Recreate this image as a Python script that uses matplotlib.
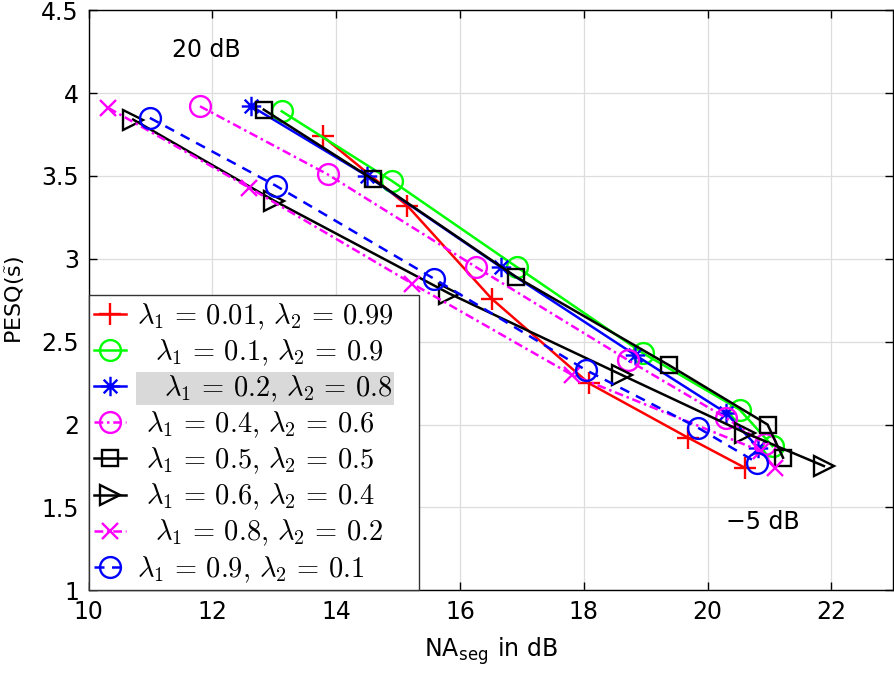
import matplotlib
matplotlib.use("Agg")
import matplotlib.pyplot as plt
from matplotlib.path import Path

plt.rcParams['mathtext.fontset'] = 'cm'
plt.rcParams['font.family'] = ['DejaVu Sans']

# Data: NA_seg (x) and PESQ (y), six SNR levels from 20 dB down to -5 dB
x_001 = [13.78, 15.15, 16.51, 18.08, 19.69, 20.60]
y_001 = [3.74, 3.32, 2.76, 2.25, 1.92, 1.74]
x_01 = [13.12, 14.90, 16.92, 18.96, 20.52, 21.05]
y_01 = [3.89, 3.47, 2.95, 2.43, 2.09, 1.87]
x_02 = [12.63, 14.50, 16.66, 18.83, 20.30, 20.82]
y_02 = [3.92, 3.50, 2.95, 2.42, 2.07, 1.86]
x_04 = [11.80, 13.86, 16.26, 18.71, 20.30, 20.93]
y_04 = [3.92, 3.51, 2.95, 2.39, 2.04, 1.88]
x_05 = [12.83, 14.59, 16.91, 19.37, 20.97, 21.22]
y_05 = [3.90, 3.48, 2.89, 2.36, 2.00, 1.80]
x_06 = [10.72, 13.00, 15.83, 18.61, 20.61, 21.88]
y_06 = [3.84, 3.35, 2.79, 2.30, 1.95, 1.75]
x_08 = [10.32, 12.59, 15.23, 17.81, 20.86, 21.09]
y_08 = [3.91, 3.43, 2.85, 2.30, 1.84, 1.74]
x_09 = [10.99, 13.03, 15.58, 18.03, 19.85, 20.80]
y_09 = [3.85, 3.44, 2.88, 2.33, 1.98, 1.77]

labels = [
    r'$\lambda_1\,=\,0.01,\,\lambda_2\,=\,0.99$   ',
    r'  $\lambda_1\,=\,0.1,\,\lambda_2\,=\,0.9$',
    r'   $\lambda_1\,=\,0.2,\,\lambda_2\,=\,0.8$',
    r' $\lambda_1\,=\,0.4,\,\lambda_2\,=\,0.6$',
    r' $\lambda_1\,=\,0.5,\,\lambda_2\,=\,0.5$',
    r' $\lambda_1\,=\,0.6,\,\lambda_2\,=\,0.4$',
    r'  $\lambda_1\,=\,0.8,\,\lambda_2\,=\,0.2$',
    r'$\lambda_1\,=\,0.9,\,\lambda_2\,=\,0.1$',
]

xticks = [10, 12, 14, 16, 18, 20, 22]
yticks = [1, 1.5, 2, 2.5, 3, 3.5, 4, 4.5]

# MATLAB-style asterisk marker (plus + cross)
ast = Path([(0, -1), (0, 1), (-1, 0), (1, 0),
            (-0.7, -0.7), (0.7, 0.7), (-0.7, 0.7), (0.7, -0.7)],
           [Path.MOVETO, Path.LINETO] * 4)

fig = plt.figure(figsize=(8.95, 6.77), dpi=100)
ax = fig.add_axes([0.099, 0.128, 0.899, 0.857])

lw = 1.8
mew = 1.7
dashdot = (0, (3.5, 1.5, 1, 1.5))
series = [
    (x_001, y_001, dict(color='#ff0000', ls='-', marker='+', ms=16)),
    (x_01, y_01, dict(color='#00ff00', ls='-', marker='o', ms=15)),
    (x_02, y_02, dict(color='#0000ff', ls='-', marker=ast, ms=14)),
    (x_04, y_04, dict(color='#ff00ff', ls=dashdot, marker='o', ms=15)),
    (x_05, y_05, dict(color='#000000', ls='-', marker='s', ms=12)),
    (x_06, y_06, dict(color='#000000', ls='-', marker='>', ms=15)),
    (x_08, y_08, dict(color='#ff00ff', ls=dashdot, marker='x', ms=12)),
    (x_09, y_09, dict(color='#0000ff', ls=(0, (4, 3)), marker='o', ms=15)),
]
handles = []
for (xs, ys, st), lab in zip(series, labels):
    h, = ax.plot(xs, ys, lw=lw, mew=mew, mfc='none', label=lab, **st)
    handles.append(h)

ax.set_xlim(10, 23)
ax.set_ylim(1, 4.5)
ax.set_xticks(xticks)
ax.set_yticks(yticks)
ax.set_xticklabels([str(t) for t in xticks])
ax.set_yticklabels([('%g' % t) for t in yticks])
ax.grid(True, color='#dddddd', lw=0.9)
ax.set_axisbelow(True)
ax.tick_params(direction='in', top=True, right=True, length=6, width=1,
               labelsize=17, pad=7)
for sp in ax.spines.values():
    sp.set_linewidth(1.0)

ax.set_xlabel(r'NA$_{\mathregular{seg}}$ in dB', fontsize=17, labelpad=8)
ax.set_ylabel(r'PESQ($\tilde{\mathregular{s}}$)', fontsize=16, labelpad=10)

ax.text(11.9, 4.26, '20 dB', fontsize=17, ha='center', va='center')
ax.text(20.9, 1.41, '\u22125 dB', fontsize=17, ha='center', va='center')

leg = ax.legend(handles=handles, loc='lower left', bbox_to_anchor=(0.0, 0.0),
                fontsize=20.5, frameon=True, fancybox=False, framealpha=1,
                edgecolor='#333333', handlelength=1.1, handletextpad=0.4,
                borderpad=0.2, labelspacing=0.2, borderaxespad=0.0)
leg.get_frame().set_linewidth(1.0)
txts = leg.get_texts()
txts[2].set_bbox(dict(facecolor='#d9d9d9', edgecolor='none', pad=1))

fig.savefig('out.png', dpi=100)
